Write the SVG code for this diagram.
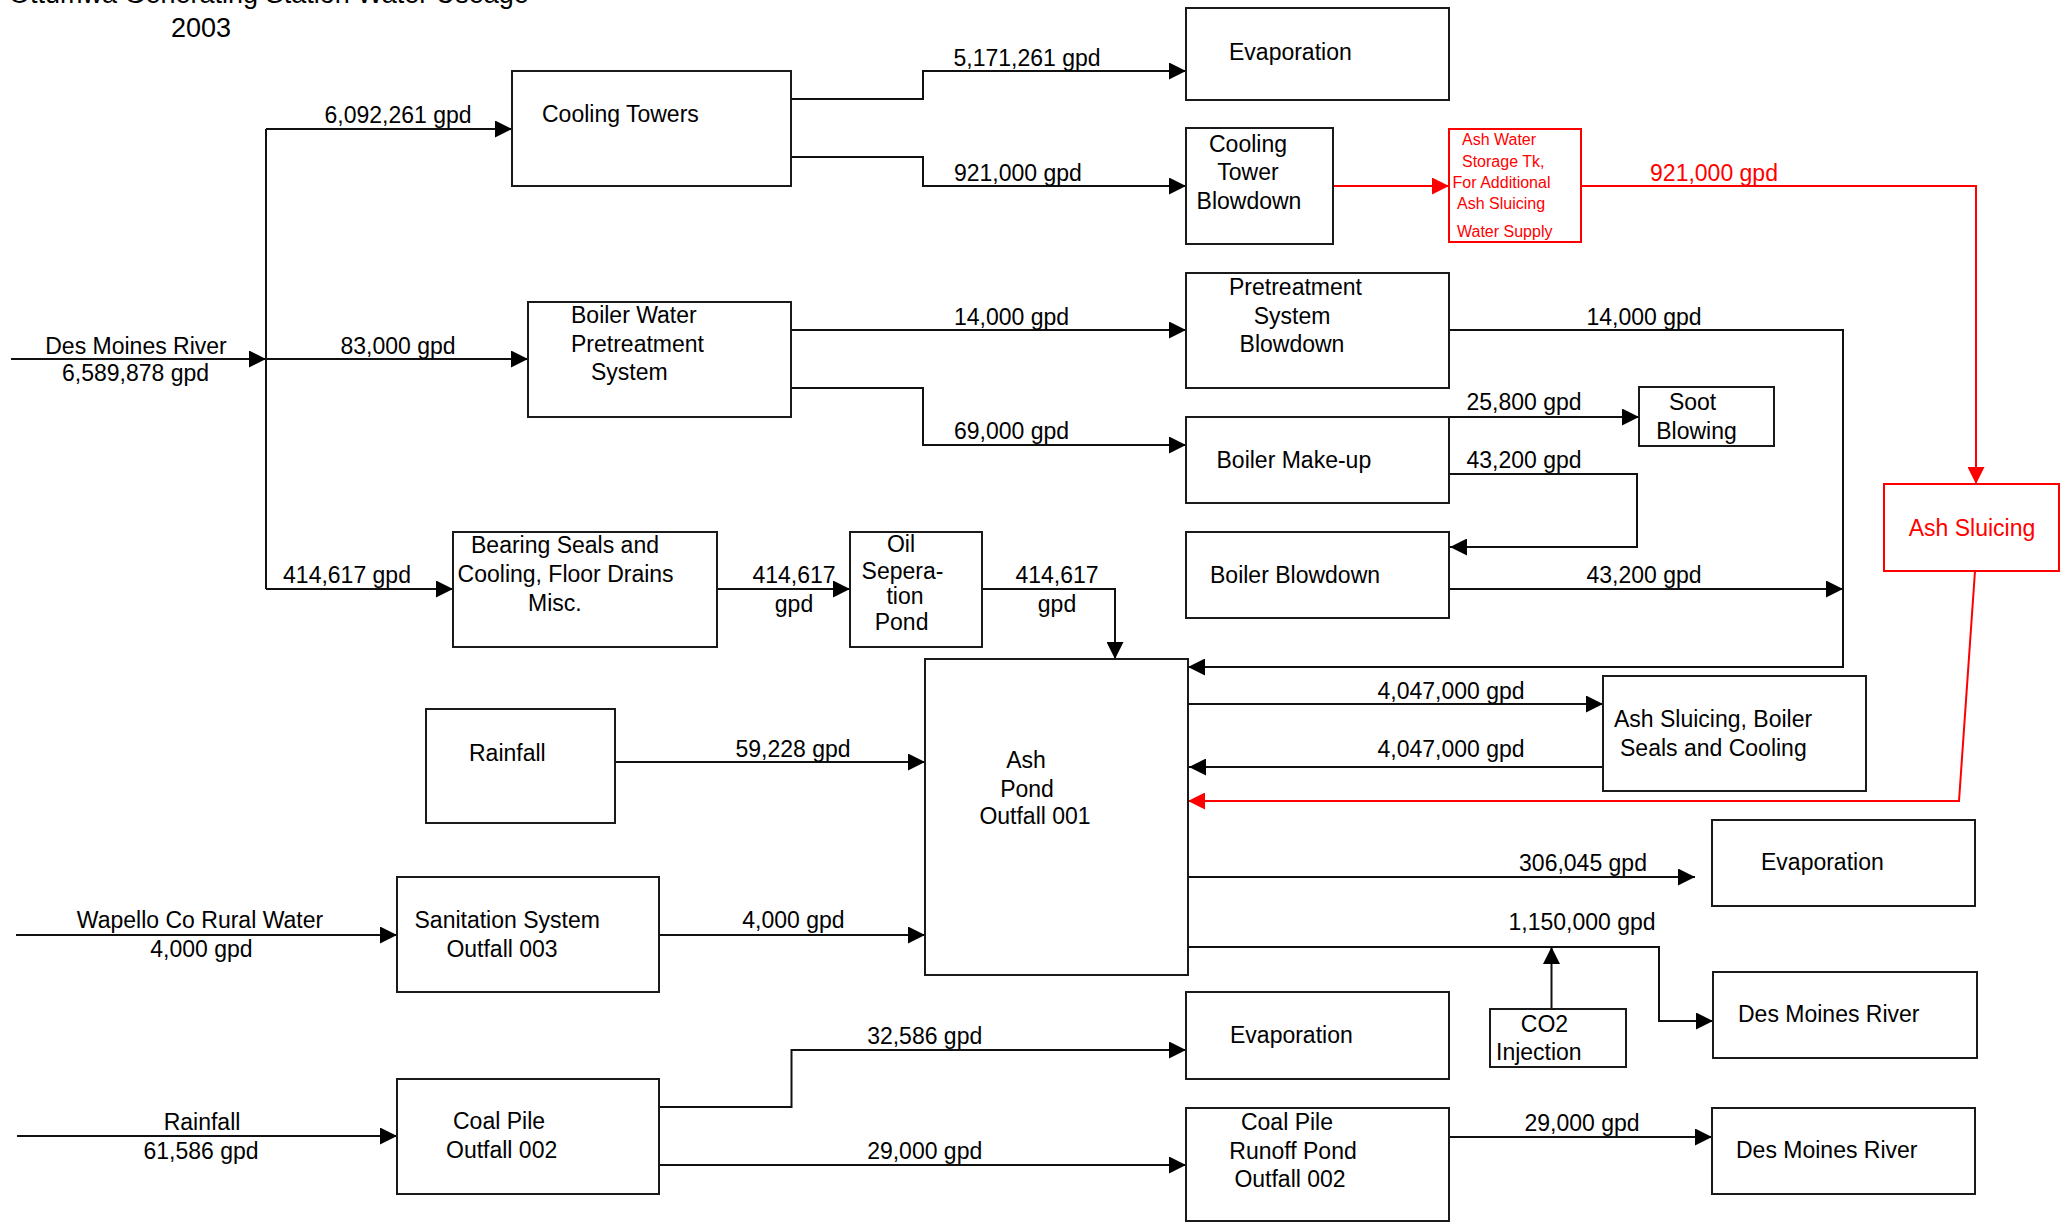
<svg xmlns="http://www.w3.org/2000/svg" width="2065" height="1223" viewBox="0 0 2065 1223">
  <style>
    .box { fill: #ffffff; stroke: #1a1a1a; stroke-width: 2; }
    .rbox { fill: #ffffff; stroke: #ff0000; stroke-width: 2; }
    .ln { fill: none; stroke: #111111; stroke-width: 2; marker-end: url(#ah); }
    .plain { fill: none; stroke: #111111; stroke-width: 2; }
    .rln { fill: none; stroke: #ff0000; stroke-width: 2; marker-end: url(#ahr); }
    text { font-family: "Liberation Sans", Arial, sans-serif; font-size: 23px; fill: #000000; }
    .m { text-anchor: middle; }
    .red { fill: #ff0000; }
    .sm { font-size: 16px; }
    .title { font-size: 27px; }
  </style>
  <defs>
    <marker id="ah" markerUnits="userSpaceOnUse" markerWidth="17" markerHeight="17" viewBox="0 0 17 17" refX="17" refY="8.5" orient="auto">
      <path d="M0,0 L17,8.5 L0,17 Z" fill="#000000"/>
    </marker>
    <marker id="ahr" markerUnits="userSpaceOnUse" markerWidth="17" markerHeight="17" viewBox="0 0 17 17" refX="17" refY="8.5" orient="auto">
      <path d="M0,0 L17,8.5 L0,17 Z" fill="#ff0000"/>
    </marker>
  </defs>
  <rect width="2065" height="1223" fill="#ffffff"/>

  <!-- heading -->
  <text class="title" x="9" y="3">Ottumwa Generating Station Water Useage</text>
  <text class="title m" x="201" y="37">2003</text>

  <!-- flows -->
  <g id="connectors">
    <path class="ln" d="M11,359 H266"/>
    <path class="plain" d="M266,129 V589"/>
    <path class="ln" d="M266,129 H512"/>
    <path class="ln" d="M266,359 H528"/>
    <path class="ln" d="M266,589 H453"/>
    <path class="ln" d="M791,99 H923 V71 H1186"/>
    <path class="ln" d="M791,157 H923 V186 H1186"/>
    <path class="rln" d="M1333,186 H1449"/>
    <path class="rln" d="M1581,186 H1976 V484"/>
    <path class="ln" d="M791,330 H1186"/>
    <path class="ln" d="M791,388 H923 V445 H1186"/>
    <path class="ln" d="M1449,330 H1843 V667 H1188"/>
    <path class="ln" d="M1449,417 H1639"/>
    <path class="ln" d="M1449,474 H1637 V547 H1450"/>
    <path class="ln" d="M1449,589 H1843"/>
    <path class="ln" d="M717,589 H850"/>
    <path class="ln" d="M982,589 H1115 V659"/>
    <path class="ln" d="M615,762 H925"/>
    <path class="ln" d="M1188,704 H1603"/>
    <path class="ln" d="M1603,767 H1189"/>
    <path class="rln" d="M1975,571 L1959,801 H1188"/>
    <path class="ln" d="M1188,877 H1695"/>
    <path class="ln" d="M1188,947 H1659 V1021 H1713"/>
    <path class="ln" d="M1551.5,1009 V947"/>
    <path class="ln" d="M16,935 H397"/>
    <path class="ln" d="M659,935 H925"/>
    <path class="ln" d="M17,1136 H397"/>
    <path class="ln" d="M659,1107 H791.5 V1050 H1186"/>
    <path class="ln" d="M659,1165 H1186"/>
    <path class="ln" d="M1449,1137 H1712"/>
  </g>

  <!-- flow labels -->
  <g id="flow-labels">
    <text class="m" x="136" y="354">Des Moines River</text>
    <text class="m" x="135.5" y="381">6,589,878 gpd</text>
    <text class="m" x="398" y="123">6,092,261 gpd</text>
    <text class="m" x="398" y="354">83,000 gpd</text>
    <text class="m" x="347" y="583">414,617 gpd</text>
    <text class="m" x="1027" y="66">5,171,261 gpd</text>
    <text x="954" y="181">921,000 gpd</text>
    <text x="954" y="325">14,000 gpd</text>
    <text x="954" y="439">69,000 gpd</text>
    <text class="m red" x="1714" y="181">921,000 gpd</text>
    <text class="m" x="1644" y="325">14,000 gpd</text>
    <text class="m" x="1524" y="410">25,800 gpd</text>
    <text class="m" x="1524" y="468">43,200 gpd</text>
    <text class="m" x="1644" y="583">43,200 gpd</text>
    <text class="m" x="794" y="583">414,617</text>
    <text class="m" x="794" y="612">gpd</text>
    <text class="m" x="1057" y="583">414,617</text>
    <text class="m" x="1057" y="612">gpd</text>
    <text class="m" x="1451" y="699">4,047,000 gpd</text>
    <text class="m" x="1451" y="757">4,047,000 gpd</text>
    <text class="m" x="793" y="757">59,228 gpd</text>
    <text class="m" x="1583" y="871">306,045 gpd</text>
    <text class="m" x="1582" y="930">1,150,000 gpd</text>
    <text class="m" x="200" y="928">Wapello Co Rural Water</text>
    <text class="m" x="201.5" y="957">4,000 gpd</text>
    <text class="m" x="793.4" y="928">4,000 gpd</text>
    <text class="m" x="202" y="1130">Rainfall</text>
    <text class="m" x="201" y="1159">61,586 gpd</text>
    <text class="m" x="924.7" y="1044">32,586 gpd</text>
    <text class="m" x="924.7" y="1159">29,000 gpd</text>
    <text class="m" x="1582" y="1131">29,000 gpd</text>
  </g>

  <!-- nodes -->
  <g id="cooling-towers">
    <rect class="box" x="512" y="71" width="279" height="115"/>
    <text x="542" y="122">Cooling Towers</text>
  </g>
  <g id="evaporation-top">
    <rect class="box" x="1186" y="8" width="263" height="92"/>
    <text x="1229" y="60">Evaporation</text>
  </g>
  <g id="cooling-tower-blowdown">
    <rect class="box" x="1186" y="128" width="147" height="116"/>
    <text class="m" x="1248" y="152">Cooling</text>
    <text class="m" x="1248" y="180">Tower</text>
    <text class="m" x="1249" y="209">Blowdown</text>
  </g>
  <g id="ash-water-tank">
    <rect class="rbox" x="1449" y="129" width="132" height="113"/>
    <text class="sm red" x="1462" y="145">Ash Water</text>
    <text class="sm red" x="1462" y="166.5">Storage Tk,</text>
    <text class="sm red" x="1452.6" y="187.5">For Additional</text>
    <text class="sm red" x="1457" y="208.6">Ash Sluicing</text>
    <text class="sm red" x="1457" y="236.5">Water Supply</text>
  </g>
  <g id="boiler-water-pretreatment">
    <rect class="box" x="528" y="302" width="263" height="115"/>
    <text x="571" y="323">Boiler Water</text>
    <text x="571" y="352">Pretreatment</text>
    <text x="591" y="380">System</text>
  </g>
  <g id="pretreatment-blowdown">
    <rect class="box" x="1186" y="273" width="263" height="115"/>
    <text class="m" x="1295.5" y="295">Pretreatment</text>
    <text class="m" x="1292" y="324">System</text>
    <text class="m" x="1292" y="352">Blowdown</text>
  </g>
  <g id="soot-blowing">
    <rect class="box" x="1639" y="387" width="135" height="59"/>
    <text class="m" x="1692.6" y="410">Soot</text>
    <text class="m" x="1696.5" y="439">Blowing</text>
  </g>
  <g id="boiler-makeup">
    <rect class="box" x="1186" y="417" width="263" height="86"/>
    <text x="1216.5" y="468">Boiler Make-up</text>
  </g>
  <g id="ash-sluicing">
    <rect class="rbox" x="1884" y="484" width="175" height="87"/>
    <text class="m red" x="1972" y="536">Ash Sluicing</text>
  </g>
  <g id="bearing-seals">
    <rect class="box" x="453" y="532" width="264" height="115"/>
    <text x="471" y="553">Bearing Seals and</text>
    <text x="457.6" y="582">Cooling, Floor Drains</text>
    <text x="528" y="611">Misc.</text>
  </g>
  <g id="oil-separation-pond">
    <rect class="box" x="850" y="532" width="132" height="115"/>
    <text class="m" x="901" y="552">Oil</text>
    <text class="m" x="902.5" y="579">Sepera-</text>
    <text class="m" x="905" y="604">tion</text>
    <text class="m" x="901.6" y="630">Pond</text>
  </g>
  <g id="boiler-blowdown">
    <rect class="box" x="1186" y="532" width="263" height="86"/>
    <text x="1210" y="583">Boiler Blowdown</text>
  </g>
  <g id="ash-pond">
    <rect class="box" x="925" y="659" width="263" height="316"/>
    <text class="m" x="1026" y="768">Ash</text>
    <text class="m" x="1027" y="797">Pond</text>
    <text class="m" x="1035" y="824">Outfall 001</text>
  </g>
  <g id="rainfall-mid">
    <rect class="box" x="426" y="709" width="189" height="114"/>
    <text x="469" y="761">Rainfall</text>
  </g>
  <g id="ash-sluicing-seals">
    <rect class="box" x="1603" y="676" width="263" height="115"/>
    <text x="1614" y="727">Ash Sluicing, Boiler</text>
    <text x="1620" y="756">Seals and Cooling</text>
  </g>
  <g id="evaporation-mid">
    <rect class="box" x="1712" y="820" width="263" height="86"/>
    <text x="1761" y="870">Evaporation</text>
  </g>
  <g id="sanitation">
    <rect class="box" x="397" y="877" width="262" height="115"/>
    <text x="414.5" y="928">Sanitation System</text>
    <text x="446.4" y="957">Outfall 003</text>
  </g>
  <g id="river-mid">
    <rect class="box" x="1713" y="972" width="264" height="86"/>
    <text x="1738" y="1022">Des Moines River</text>
  </g>
  <g id="co2-injection">
    <rect class="box" x="1490" y="1009" width="136" height="58"/>
    <text class="m" x="1544.5" y="1032">CO2</text>
    <text x="1496" y="1060">Injection</text>
  </g>
  <g id="evaporation-low">
    <rect class="box" x="1186" y="992" width="263" height="87"/>
    <text x="1230" y="1043">Evaporation</text>
  </g>
  <g id="coal-pile">
    <rect class="box" x="397" y="1079" width="262" height="115"/>
    <text x="453" y="1129">Coal Pile</text>
    <text x="446" y="1158">Outfall 002</text>
  </g>
  <g id="coal-pile-runoff-pond">
    <rect class="box" x="1186" y="1108" width="263" height="113"/>
    <text class="m" x="1287" y="1130">Coal Pile</text>
    <text class="m" x="1293" y="1159">Runoff Pond</text>
    <text class="m" x="1290" y="1187">Outfall 002</text>
  </g>
  <g id="river-low">
    <rect class="box" x="1712" y="1108" width="263" height="86"/>
    <text x="1736" y="1158">Des Moines River</text>
  </g>
</svg>
